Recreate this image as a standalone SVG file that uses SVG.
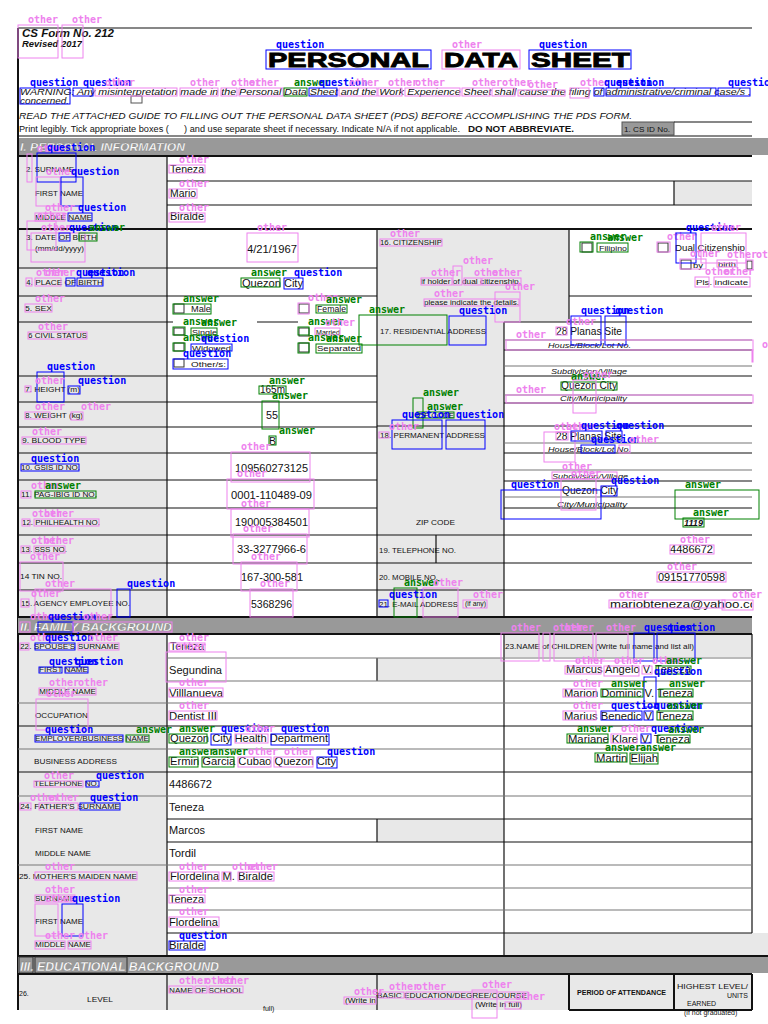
<svg xmlns="http://www.w3.org/2000/svg" width="768" height="1024" viewBox="0 0 768 1024">
<style>
.f{font-family:"Liberation Sans",Arial,sans-serif;fill:#111}
.lb{font-family:"Liberation Sans",Arial,sans-serif;font-size:7px;fill:#111}
.v{font-family:"Liberation Sans",Arial,sans-serif;font-size:10.5px;fill:#111}
.n{font-family:"Liberation Sans",Arial,sans-serif;font-size:11.5px;fill:#111}
.it{font-style:italic}
.bt{font-family:"Liberation Sans",Arial,sans-serif;font-style:italic;font-weight:bold;fill:#fff;stroke:#777;stroke-width:0.3}
.bar{fill:#999}
.cell{fill:#e8e8e8}
.ln{stroke:#111;stroke-width:1.2;fill:none}
.lg{stroke:#777;stroke-width:1.2;fill:none}
.thk{stroke:#111;stroke-width:2;fill:none}
.cb{fill:#fff;stroke:#333;stroke-width:1}
.ann rect{fill:none;stroke-width:1}
.ann text{font-family:"DejaVu Sans Mono",monospace;font-size:10px;font-weight:bold}
.q rect{stroke:#0000ff}.q text{fill:#0000ff}
.a rect{stroke:#008000}.a text{fill:#008000}
.o rect{stroke:#ee82ee}.o text{fill:#ee82ee}
</style>
<defs>
<clipPath id="clipR"><rect x="0" y="0" width="752" height="1024"/></clipPath>
</defs>
<rect width="768" height="1024" fill="#fff"/>

<g id="header">
<line class="ln" x1="18" y1="28" x2="752" y2="28" stroke-width="1.5"/>
<text class="f it" x="22" y="37" font-size="11" font-weight="bold" textLength="92" lengthAdjust="spacingAndGlyphs">CS Form No. 212</text>
<text class="f it" x="22" y="47" font-size="8.5" font-weight="bold" textLength="60" lengthAdjust="spacingAndGlyphs">Revised 2017</text>
<g font-family="'Liberation Sans',Arial,sans-serif" font-weight="bold" font-size="21" fill="#000" stroke="#000" stroke-width="0.9">
<text x="268" y="67" textLength="161" lengthAdjust="spacingAndGlyphs">PERSONAL</text>
<text x="444" y="67" textLength="74" lengthAdjust="spacingAndGlyphs">DATA</text>
<text x="531" y="67" textLength="99" lengthAdjust="spacingAndGlyphs">SHEET</text>
</g>
<text class="f it" x="20" y="95" font-size="8.5" textLength="731" lengthAdjust="spacingAndGlyphs">WARNING: Any misinterpretation made in the Personal Data Sheet and the Work Experience Sheet shall cause the filing of administrative/criminal case/s .</text>
<text class="f it" x="20" y="104" font-size="8.5" textLength="49" lengthAdjust="spacingAndGlyphs">concerned.</text>
<rect x="131" y="96" width="11" height="7" fill="#fff" stroke="#555"/>
<text class="f it" x="19" y="119" font-size="9" textLength="613" lengthAdjust="spacingAndGlyphs">READ THE ATTACHED GUIDE TO FILLING OUT THE PERSONAL DATA SHEET (PDS) BEFORE ACCOMPLISHING THE PDS FORM.</text>
<text class="f" x="19" y="132" font-size="8.5" textLength="441" lengthAdjust="spacingAndGlyphs">Print legibly. Tick appropriate boxes (&#160;&#160;&#160;&#160;&#160;&#160;) and use separate sheet if necessary. Indicate N/A if not applicable.</text>
<text class="f" x="468" y="132" font-size="9.5" font-weight="bold" textLength="106" lengthAdjust="spacingAndGlyphs">DO NOT ABBREVIATE.</text>
<rect x="622" y="122" width="52" height="13" fill="#999" stroke="#555"/>
<text class="f" x="624" y="132" font-size="7" fill="#222" textLength="46" lengthAdjust="spacingAndGlyphs">1. CS ID No.</text>
<line class="ln" x1="674" y1="122" x2="752" y2="122"/>
<line class="ln" x1="18" y1="136" x2="752" y2="136"/>
<rect class="bar" x="18" y="138" width="750" height="17"/>
<text class="bt" x="20" y="151" font-size="11.5" textLength="165" lengthAdjust="spacingAndGlyphs">I. PERSONAL INFORMATION</text>
<line class="thk" x1="18" y1="156" x2="752" y2="156"/>
<line class="thk" x1="18" y1="28" x2="18" y2="1010"/>
</g>

<g id="sec1">
<rect class="cell" x="19" y="157" width="148" height="460"/>
<rect class="cell" x="674" y="181" width="78" height="24"/>
<rect class="cell" x="377" y="229" width="192" height="93"/>
<rect class="cell" x="377" y="322" width="127" height="295"/>
<line class="ln" x1="167" y1="156" x2="167" y2="617"/>
<line class="ln" x1="377" y1="229" x2="377" y2="617"/>
<line class="ln" x1="569" y1="229" x2="569" y2="322"/>
<line class="ln" x1="504" y1="322" x2="504" y2="617"/>
<line class="ln" x1="674" y1="181" x2="674" y2="205"/>
<line class="ln" x1="436" y1="535" x2="436" y2="563"/>
<line class="ln" x1="167" y1="181" x2="752" y2="181"/>
<line class="ln" x1="167" y1="205" x2="752" y2="205"/>
<line class="thk" x1="18" y1="229" x2="752" y2="229"/>
<line class="ln" x1="18" y1="268" x2="377" y2="268"/>
<line class="ln" x1="18" y1="296" x2="377" y2="296"/>
<line class="ln" x1="18" y1="322" x2="173" y2="322"/>
<line class="ln" x1="257" y1="322" x2="298" y2="322"/>
<line class="ln" x1="18" y1="376" x2="377" y2="376"/>
<line class="ln" x1="18" y1="402" x2="377" y2="402"/>
<line class="ln" x1="18" y1="427" x2="377" y2="427"/>
<line class="ln" x1="18" y1="453" x2="377" y2="453"/>
<line class="ln" x1="18" y1="480" x2="377" y2="480"/>
<line class="ln" x1="18" y1="508" x2="377" y2="508"/>
<line class="ln" x1="18" y1="535" x2="377" y2="535"/>
<line class="ln" x1="18" y1="563" x2="377" y2="563"/>
<line class="ln" x1="18" y1="590" x2="377" y2="590"/>
<line class="ln" x1="569" y1="296" x2="752" y2="296"/>
<line class="ln" x1="504" y1="322" x2="752" y2="322"/>
<line class="lg" x1="504" y1="340" x2="752" y2="340"/>
<line class="ln" x1="504" y1="350" x2="752" y2="350"/>
<line class="lg" x1="504" y1="366" x2="752" y2="366"/>
<line class="ln" x1="504" y1="376" x2="752" y2="376"/>
<line class="lg" x1="504" y1="395" x2="752" y2="395"/>
<line class="ln" x1="504" y1="403" x2="752" y2="403"/>
<line class="ln" x1="377" y1="426" x2="752" y2="426"/>
<line class="lg" x1="504" y1="443" x2="752" y2="443"/>
<line class="ln" x1="504" y1="453" x2="752" y2="453"/>
<line class="lg" x1="504" y1="470" x2="752" y2="470"/>
<line class="ln" x1="504" y1="481" x2="752" y2="481"/>
<line class="lg" x1="504" y1="497" x2="752" y2="497"/>
<line class="ln" x1="504" y1="508" x2="752" y2="508"/>
<line class="ln" x1="377" y1="535" x2="752" y2="535"/>
<line class="ln" x1="377" y1="563" x2="752" y2="563"/>
<line class="ln" x1="377" y1="590" x2="752" y2="590"/>
<line class="thk" x1="18" y1="617" x2="752" y2="617" stroke-width="2.5"/>

<text class="lb" x="26" y="172" textLength="48" lengthAdjust="spacingAndGlyphs">2. SURNAME</text>
<text class="lb" x="35" y="196" textLength="48" lengthAdjust="spacingAndGlyphs">FIRST NAME</text>
<text class="lb" x="35" y="220" textLength="57" lengthAdjust="spacingAndGlyphs">MIDDLE NAME</text>
<text class="lb" x="26" y="240" textLength="71" lengthAdjust="spacingAndGlyphs">3. DATE OF BIRTH</text>
<text class="lb" x="35" y="251" font-size="6.5" textLength="49" lengthAdjust="spacingAndGlyphs">(mm/dd/yyyy)</text>
<text class="lb" x="26" y="285" textLength="77" lengthAdjust="spacingAndGlyphs">4. PLACE OF BIRTH</text>
<text class="lb" x="25" y="311" textLength="27" lengthAdjust="spacingAndGlyphs">5. SEX</text>
<text class="lb" x="28" y="338" textLength="59" lengthAdjust="spacingAndGlyphs">6 CIVIL STATUS</text>
<text class="lb" x="25" y="392" textLength="55" lengthAdjust="spacingAndGlyphs">7. HEIGHT (m)</text>
<text class="lb" x="25" y="418" textLength="58" lengthAdjust="spacingAndGlyphs">8. WEIGHT (kg)</text>
<text class="lb" x="22" y="443" textLength="64" lengthAdjust="spacingAndGlyphs">9.  BLOOD TYPE</text>
<text class="lb" x="21" y="470" textLength="59" lengthAdjust="spacingAndGlyphs">10. GSIS ID NO.</text>
<text class="lb" x="21" y="497" textLength="76" lengthAdjust="spacingAndGlyphs">11.  PAG-IBIG ID NO.</text>
<text class="lb" x="22" y="525" textLength="78" lengthAdjust="spacingAndGlyphs">12.  PHILHEALTH NO.</text>
<text class="lb" x="21" y="552" textLength="46" lengthAdjust="spacingAndGlyphs">13.  SSS NO.</text>
<text class="lb" x="20" y="579" textLength="42" lengthAdjust="spacingAndGlyphs">14 TIN NO.</text>
<text class="lb" x="21" y="606" textLength="109" lengthAdjust="spacingAndGlyphs">15. AGENCY EMPLOYEE NO.</text>

<text class="v" x="170" y="173" textLength="34" lengthAdjust="spacingAndGlyphs">Teneza</text>
<text class="v" x="170" y="197" textLength="26" lengthAdjust="spacingAndGlyphs">Mario</text>
<text class="v" x="170" y="220" textLength="34" lengthAdjust="spacingAndGlyphs">Biralde</text>
<text class="n" x="247" y="253" textLength="50" lengthAdjust="spacingAndGlyphs">4/21/1967</text>
<text class="v" x="242" y="287" textLength="61" lengthAdjust="spacingAndGlyphs">Quezon City</text>
<rect class="cb" x="174" y="304" width="10" height="9"/>
<text class="f" x="191" y="312" font-size="8.5" textLength="20" lengthAdjust="spacingAndGlyphs">Male</text>
<rect class="cb" x="299" y="304" width="10" height="9"/>
<text class="f" x="317" y="312" font-size="8.5" textLength="29" lengthAdjust="spacingAndGlyphs">Female</text>
<rect class="cb" x="174" y="328" width="10" height="7"/>
<text class="f" x="192" y="335" font-size="8" textLength="25" lengthAdjust="spacingAndGlyphs">Single</text>
<rect class="cb" x="299" y="328" width="10" height="8"/>
<text class="f" x="316" y="335" font-size="8" textLength="24" lengthAdjust="spacingAndGlyphs">Married</text>
<rect class="cb" x="174" y="343" width="10" height="8"/>
<text class="f" x="192" y="351" font-size="8" textLength="39" lengthAdjust="spacingAndGlyphs">Widowed</text>
<rect class="cb" x="299" y="343" width="10" height="9"/>
<text class="f" x="317" y="351" font-size="8" textLength="44" lengthAdjust="spacingAndGlyphs">Separated</text>
<rect class="cb" x="174" y="359" width="10" height="8"/>
<text class="f" x="191" y="367" font-size="8" textLength="35" lengthAdjust="spacingAndGlyphs">Other/s:</text>
<text class="v" x="260" y="393" textLength="25" lengthAdjust="spacingAndGlyphs">165m</text>
<text class="n" x="266" y="419" textLength="12" lengthAdjust="spacingAndGlyphs">55</text>
<text class="v" x="269" y="445" textLength="7" lengthAdjust="spacingAndGlyphs">B</text>
<text class="n" x="235" y="472" textLength="73" lengthAdjust="spacingAndGlyphs">109560273125</text>
<text class="n" x="231" y="499" textLength="81" lengthAdjust="spacingAndGlyphs">0001-110489-09</text>
<text class="n" x="235" y="526" textLength="73" lengthAdjust="spacingAndGlyphs">190005384501</text>
<text class="n" x="237" y="553" textLength="69" lengthAdjust="spacingAndGlyphs">33-3277966-6</text>
<text class="n" x="241" y="581" textLength="62" lengthAdjust="spacingAndGlyphs">167-300-581</text>
<text class="n" x="251" y="608" textLength="41" lengthAdjust="spacingAndGlyphs">5368296</text>

<text class="lb" x="380" y="245" textLength="62" lengthAdjust="spacingAndGlyphs">16. CITIZENSHIP</text>
<rect class="cb" x="582" y="243" width="10" height="9"/>
<text class="f" x="599" y="251" font-size="8" textLength="28" lengthAdjust="spacingAndGlyphs">Filipino</text>
<rect class="cb" x="658" y="243" width="10" height="9"/>
<text class="f" x="675" y="251" font-size="8.5" textLength="70" lengthAdjust="spacingAndGlyphs">Dual Citizenship</text>
<rect class="cb" x="681" y="260" width="10" height="9"/>
<text class="f" x="693" y="268" font-size="7.5" textLength="10" lengthAdjust="spacingAndGlyphs">by</text>
<text class="f" x="718" y="267" font-size="7" fill="#555" textLength="18" lengthAdjust="spacingAndGlyphs">birth</text>
<rect class="cb" x="747" y="261" width="5" height="8"/>
<text class="f" x="696" y="285" font-size="8" fill="#444" textLength="52" lengthAdjust="spacingAndGlyphs">Pls. indicate</text>
<text class="f" x="421" y="284" font-size="7" fill="#222" textLength="100" lengthAdjust="spacingAndGlyphs">if holder of  dual citizenship,</text>
<text class="f" x="424" y="305" font-size="7" fill="#222" textLength="95" lengthAdjust="spacingAndGlyphs">please indicate the details.</text>
<text class="lb" x="380" y="334" textLength="106" lengthAdjust="spacingAndGlyphs">17. RESIDENTIAL ADDRESS</text>
<text class="v" x="556" y="335" textLength="66" lengthAdjust="spacingAndGlyphs">28 Planas Site</text>
<text class="f it" x="548" y="348" font-size="8" fill="#333" textLength="83" lengthAdjust="spacingAndGlyphs">House/Block/Lot No.</text>
<text class="f it" x="551" y="374" font-size="8" fill="#333" textLength="76" lengthAdjust="spacingAndGlyphs">Subdivision/Village</text>
<text class="v" x="561" y="389" textLength="56" lengthAdjust="spacingAndGlyphs">Quezon City</text>
<text class="f it" x="560" y="401" font-size="7.5" fill="#333" textLength="67" lengthAdjust="spacingAndGlyphs">City/Municipality</text>
<text class="lb" x="417" y="418" font-size="6.5" fill="#555" textLength="37" lengthAdjust="spacingAndGlyphs">ZIP CODE</text>
<text class="lb" x="380" y="438" textLength="105" lengthAdjust="spacingAndGlyphs">18. PERMANENT ADDRESS</text>
<text class="v" x="556" y="440" textLength="66" lengthAdjust="spacingAndGlyphs">28 Planas Site</text>
<text class="f it" x="548" y="452" font-size="8" fill="#333" textLength="83" lengthAdjust="spacingAndGlyphs">House/Block/Lot No.</text>
<text class="f it" x="552" y="479" font-size="8" fill="#333" textLength="76" lengthAdjust="spacingAndGlyphs">Subdivision/Village</text>
<text class="v" x="562" y="494" textLength="56" lengthAdjust="spacingAndGlyphs">Quezon City</text>
<text class="f it" x="557" y="507" font-size="8" fill="#333" textLength="70" lengthAdjust="spacingAndGlyphs">City/Municipality</text>
<text class="lb" x="416" y="525" font-size="7.5" textLength="39" lengthAdjust="spacingAndGlyphs">ZIP CODE</text>
<text class="f it" x="684" y="526" font-size="9" font-weight="bold" textLength="19" lengthAdjust="spacingAndGlyphs">1119</text>
<text class="lb" x="379" y="553" font-size="7.5" textLength="77" lengthAdjust="spacingAndGlyphs">19. TELEPHONE NO.</text>
<text class="v" x="670" y="553" textLength="43" lengthAdjust="spacingAndGlyphs">4486672</text>
<text class="lb" x="379" y="580" font-size="7.5" textLength="59" lengthAdjust="spacingAndGlyphs">20. MOBILE NO.</text>
<text class="v" x="658" y="581" textLength="67" lengthAdjust="spacingAndGlyphs">09151770598</text>
<text class="lb" x="379" y="607" font-size="7.5" textLength="79" lengthAdjust="spacingAndGlyphs">21. E-MAIL ADDRESS</text>
<text class="lb" x="465" y="606" font-size="6.5" textLength="21" lengthAdjust="spacingAndGlyphs">(if any)</text>
<text class="f" x="610" y="608" font-size="11.5" fill="#334" clip-path="url(#clipR)" textLength="158" lengthAdjust="spacingAndGlyphs">mariobteneza@yahoo.com</text>
</g>

<g id="sec2">
<rect class="bar" x="18" y="618" width="734" height="15"/>
<text class="bt" x="20" y="631" font-size="11.5" textLength="152" lengthAdjust="spacingAndGlyphs">II.  FAMILY BACKGROUND</text>
<line class="thk" x1="18" y1="634" x2="752" y2="634"/>
<rect class="cell" x="19" y="635" width="148" height="321"/>
<rect class="cell" x="504" y="635" width="248" height="22"/>
<rect class="cell" x="377" y="658" width="127" height="23"/>
<rect class="cell" x="377" y="819" width="127" height="23"/>
<rect class="cell" x="504" y="933" width="264" height="23"/>
<line class="ln" x1="167" y1="634" x2="167" y2="956"/>
<line class="ln" x1="504" y1="634" x2="504" y2="956"/>
<line class="ln" x1="752" y1="634" x2="752" y2="933"/>
<line class="ln" x1="377" y1="658" x2="377" y2="681"/>
<line class="ln" x1="377" y1="819" x2="377" y2="842"/>
<line class="lg" x1="167" y1="658" x2="752" y2="658"/>
<line class="lg" x1="167" y1="681" x2="752" y2="681"/>
<line class="lg" x1="18" y1="703" x2="752" y2="703"/>
<line class="ln" x1="18" y1="726" x2="752" y2="726"/>
<line class="lg" x1="18" y1="749" x2="752" y2="749"/>
<line class="ln" x1="18" y1="772" x2="752" y2="772"/>
<line class="lg" x1="18" y1="796" x2="752" y2="796"/>
<line class="ln" x1="167" y1="819" x2="752" y2="819"/>
<line class="ln" x1="167" y1="842" x2="752" y2="842"/>
<line class="lg" x1="18" y1="865" x2="752" y2="865"/>
<line class="lg" x1="167" y1="888" x2="752" y2="888"/>
<line class="lg" x1="167" y1="910" x2="752" y2="910"/>
<line class="ln" x1="167" y1="933" x2="752" y2="933"/>
<line class="thk" x1="18" y1="956" x2="768" y2="956" stroke-width="2.5"/>

<text class="lb" x="20" y="649" textLength="99" lengthAdjust="spacingAndGlyphs">22.  SPOUSE'S SURNAME</text>
<text class="lb" x="39" y="672" textLength="49" lengthAdjust="spacingAndGlyphs">FIRST NAME</text>
<text class="lb" x="39" y="694" textLength="57" lengthAdjust="spacingAndGlyphs">MIDDLE NAME</text>
<text class="lb" x="35" y="718" textLength="53" lengthAdjust="spacingAndGlyphs">OCCUPATION</text>
<text class="lb" x="35" y="741" textLength="114" lengthAdjust="spacingAndGlyphs">EMPLOYER/BUSINESS NAME</text>
<text class="lb" x="34" y="764" textLength="83" lengthAdjust="spacingAndGlyphs">BUSINESS ADDRESS</text>
<text class="lb" x="34" y="786" textLength="65" lengthAdjust="spacingAndGlyphs">TELEPHONE NO.</text>
<text class="lb" x="20" y="809" textLength="100" lengthAdjust="spacingAndGlyphs">24.  FATHER'S SURNAME</text>
<text class="lb" x="35" y="833" textLength="48" lengthAdjust="spacingAndGlyphs">FIRST NAME</text>
<text class="lb" x="35" y="856" textLength="56" lengthAdjust="spacingAndGlyphs">MIDDLE NAME</text>
<text class="lb" x="19" y="879" textLength="118" lengthAdjust="spacingAndGlyphs">25.  MOTHER'S MAIDEN NAME</text>
<text class="lb" x="35" y="901" textLength="40" lengthAdjust="spacingAndGlyphs">SURNAME</text>
<text class="lb" x="35" y="924" textLength="48" lengthAdjust="spacingAndGlyphs">FIRST NAME</text>
<text class="lb" x="35" y="947" textLength="56" lengthAdjust="spacingAndGlyphs">MIDDLE NAME</text>

<text class="v" x="170" y="650" textLength="34" lengthAdjust="spacingAndGlyphs">Teneza</text>
<text class="v" x="169" y="674" textLength="53" lengthAdjust="spacingAndGlyphs">Segundina</text>
<text class="v" x="169" y="697" textLength="54" lengthAdjust="spacingAndGlyphs">Villlanueva</text>
<text class="v" x="169" y="720" textLength="48" lengthAdjust="spacingAndGlyphs">Dentist III</text>
<text class="v" x="170" y="742" textLength="158" lengthAdjust="spacingAndGlyphs">Quezon City Health Department</text>
<text class="v" x="170" y="765" textLength="166" lengthAdjust="spacingAndGlyphs">Ermin Garcia Cubao Quezon City</text>
<text class="v" x="169" y="788" textLength="43" lengthAdjust="spacingAndGlyphs">4486672</text>
<text class="v" x="169" y="811" textLength="35" lengthAdjust="spacingAndGlyphs">Teneza</text>
<text class="v" x="169" y="834" textLength="36" lengthAdjust="spacingAndGlyphs">Marcos</text>
<text class="v" x="169" y="857" textLength="27" lengthAdjust="spacingAndGlyphs">Tordil</text>
<text class="v" x="170" y="880" textLength="103" lengthAdjust="spacingAndGlyphs">Flordelina M. Biralde</text>
<text class="v" x="169" y="903" textLength="35" lengthAdjust="spacingAndGlyphs">Teneza</text>
<text class="v" x="169" y="926" textLength="49" lengthAdjust="spacingAndGlyphs">Flordelina</text>
<text class="v" x="169" y="949" textLength="35" lengthAdjust="spacingAndGlyphs">Biralde</text>

<text class="lb" x="505" y="649" font-size="7.5" textLength="189" lengthAdjust="spacingAndGlyphs">23.NAME of CHILDREN (Write full name and list all)</text>
<text class="v" x="566" y="673" textLength="125" lengthAdjust="spacingAndGlyphs">Marcus Angelo V. Teneza</text>
<text class="v" x="564" y="697" textLength="129" lengthAdjust="spacingAndGlyphs">Marion Dominic V. Teneza</text>
<text class="v" x="564" y="720" textLength="129" lengthAdjust="spacingAndGlyphs">Marius Benedic V. Teneza</text>
<text class="v" x="568" y="743" textLength="122" lengthAdjust="spacingAndGlyphs">Mariane Klare V. Teneza</text>
<text class="v" x="596" y="762" textLength="62" lengthAdjust="spacingAndGlyphs">Martin Elijah</text>
</g>

<g id="sec3">
<rect class="bar" x="18" y="957" width="750" height="16"/>
<rect x="19" y="957" width="14" height="16" fill="none" stroke="#333"/>
<rect x="35" y="957" width="92" height="16" fill="none" stroke="#333"/>
<text class="bt" x="20" y="971" font-size="12" textLength="199" lengthAdjust="spacingAndGlyphs">III.  EDUCATIONAL BACKGROUND</text>
<line class="thk" x1="18" y1="974" x2="752" y2="974"/>
<rect class="cell" x="19" y="975" width="733" height="35"/>
<line class="ln" x1="167" y1="974" x2="167" y2="1010"/>
<line class="ln" x1="377" y1="974" x2="377" y2="1010"/>
<line class="thk" x1="569" y1="974" x2="569" y2="1010"/>
<line class="thk" x1="674" y1="974" x2="674" y2="1010"/>
<line class="thk" x1="752" y1="974" x2="752" y2="1010"/>
<line class="thk" x1="569" y1="1010" x2="752" y2="1010"/>
<text class="lb" x="19" y="996">26.</text>
<text class="lb" x="87" y="1002" font-size="7.5" textLength="26" lengthAdjust="spacingAndGlyphs">LEVEL</text>
<text class="lb" x="169" y="993" textLength="74" lengthAdjust="spacingAndGlyphs">NAME OF SCHOOL</text>
<text class="lb" x="345" y="1003" font-size="6.5" textLength="31" lengthAdjust="spacingAndGlyphs">(Write in</text>
<text class="lb" x="263" y="1011" font-size="6.5">full)</text>
<text class="lb" x="377" y="998" textLength="150" lengthAdjust="spacingAndGlyphs">BASIC EDUCATION/DEGREE/COURSE</text>
<text class="lb" x="475" y="1007" textLength="47" lengthAdjust="spacingAndGlyphs">(Write in full)</text>
<text class="lb" x="577" y="995" font-size="6.5" font-weight="bold" textLength="89" lengthAdjust="spacingAndGlyphs">PERIOD OF ATTENDANCE</text>
<text class="lb" x="677" y="989" font-size="7.5" textLength="71" lengthAdjust="spacingAndGlyphs">HIGHEST LEVEL/</text>
<text class="lb" x="748" y="998" font-size="7.5" text-anchor="end">UNITS</text>
<text class="lb" x="687" y="1006" font-size="7.5">EARNED</text>
<text class="lb" x="684" y="1015" font-size="6.5">(if not graduated)</text>
</g>

<g id="annotations">
<g id="n1" class="ann o" transform="translate(18,25)"><rect width="40" height="33"/><text x="10" y="-2">other</text></g>
<g id="n2" class="ann o" transform="translate(62,25)"><rect width="21" height="33"/><text x="10" y="-2">other</text></g>
<g id="n3" class="ann q" transform="translate(266,50)"><rect width="165" height="19"/><text x="10" y="-2">question</text></g>
<g id="n4" class="ann o" transform="translate(442,50)"><rect width="78" height="19"/><text x="10" y="-2">other</text></g>
<g id="n5" class="ann q" transform="translate(529,50)"><rect width="102" height="19"/><text x="10" y="-2">question</text></g>
<g id="n6" class="ann q" transform="translate(20,88)"><rect width="50" height="16"/><text x="10" y="-2">question</text></g>
<g id="n7" class="ann q" transform="translate(73,88)"><rect width="20" height="8"/><text x="10" y="-2">question</text></g>
<g id="n8" class="ann o" transform="translate(95,88)"><rect width="82" height="8"/><text x="10" y="-2">other</text></g>
<g id="n9" class="ann o" transform="translate(180,88)"><rect width="38" height="8"/><text x="10" y="-2">other</text></g>
<g id="n10" class="ann o" transform="translate(221,88)"><rect width="16" height="8"/><text x="10" y="-2">other</text></g>
<g id="n11" class="ann o" transform="translate(239,88)"><rect width="44" height="8"/><text x="10" y="-2">other</text></g>
<g id="n12" class="ann a" transform="translate(284,88)"><rect width="23" height="8"/><text x="10" y="-2">answer</text></g>
<g id="n13" class="ann q" transform="translate(309,88)"><rect width="28" height="8"/><text x="10" y="-2">question</text></g>
<g id="n14" class="ann o" transform="translate(339,88)"><rect width="38" height="8"/><text x="10" y="-2">other</text></g>
<g id="n15" class="ann o" transform="translate(378,88)"><rect width="24" height="8"/><text x="10" y="-2">other</text></g>
<g id="n16" class="ann o" transform="translate(405,88)"><rect width="55" height="8"/><text x="10" y="-2">other</text></g>
<g id="n17" class="ann o" transform="translate(462,88)"><rect width="28" height="8"/><text x="10" y="-2">other</text></g>
<g id="n18" class="ann o" transform="translate(492,88)"><rect width="23" height="8"/><text x="10" y="-2">other</text></g>
<g id="n19" class="ann o" transform="translate(518,90)"><rect width="47" height="6"/><text x="10" y="-2">other</text></g>
<g id="n20" class="ann o" transform="translate(570,88)"><rect width="19" height="10"/><text x="10" y="-2">other</text></g>
<g id="n21" class="ann q" transform="translate(594,88)"><rect width="10" height="8"/><text x="10" y="-2">question</text></g>
<g id="n22" class="ann q" transform="translate(606,88)"><rect width="110" height="8"/><text x="10" y="-2">question</text></g>
<g id="n23" class="ann q" transform="translate(718,88)"><rect width="32" height="8"/><text x="10" y="-2">question</text></g>

<g id="n24" class="ann o" transform="translate(27,154)"><rect width="5" height="28"/><text x="10" y="-2">other</text></g>
<g id="n25" class="ann q" transform="translate(37,153)"><rect width="39" height="29"/><text x="10" y="-2">question</text></g>
<g id="n26" class="ann o" transform="translate(169,165)"><rect width="36" height="8"/><text x="10" y="-2">other</text></g>
<g id="n27" class="ann o" transform="translate(36,177)"><rect width="24" height="29"/><text x="10" y="-2">other</text></g>
<g id="n28" class="ann q" transform="translate(61,177)"><rect width="22" height="29"/><text x="10" y="-2">question</text></g>
<g id="n29" class="ann o" transform="translate(169,189)"><rect width="28" height="9"/><text x="10" y="-2">other</text></g>
<g id="n30" class="ann o" transform="translate(35,213)"><rect width="30" height="8"/><text x="10" y="-2">other</text></g>
<g id="n31" class="ann q" transform="translate(68,213)"><rect width="24" height="8"/><text x="10" y="-2">question</text></g>
<g id="n32" class="ann o" transform="translate(169,213)"><rect width="36" height="9"/><text x="10" y="-2">other</text></g>
<g id="n33" class="ann o" transform="translate(27,221)"><rect width="29" height="29"/><text x="10" y="-2">other</text></g>
<g id="n34" class="ann o" transform="translate(31,233)"><rect width="54" height="29"/><text x="10" y="-2">other</text></g>
<g id="n35" class="ann q" transform="translate(59,233)"><rect width="11" height="8"/><text x="10" y="-2">question</text></g>
<g id="n36" class="ann a" transform="translate(79,233)"><rect width="18" height="8"/><text x="10" y="-2">answer</text></g>
<g id="n37" class="ann o" transform="translate(247,233)"><rect width="51" height="29"/><text x="10" y="-2">other</text></g>
<g id="n38" class="ann o" transform="translate(26,278)"><rect width="6" height="8"/><text x="10" y="-2">other</text></g>
<g id="n39" class="ann o" transform="translate(35,278)"><rect width="26" height="8"/><text x="10" y="-2">other</text></g>
<g id="n40" class="ann q" transform="translate(66,278)"><rect width="9" height="8"/><text x="10" y="-2">question</text></g>
<g id="n41" class="ann q" transform="translate(77,278)"><rect width="26" height="8"/><text x="10" y="-2">question</text></g>
<g id="n42" class="ann a" transform="translate(241,278)"><rect width="39" height="9"/><text x="10" y="-2">answer</text></g>
<g id="n43" class="ann q" transform="translate(284,278)"><rect width="19" height="11"/><text x="10" y="-2">question</text></g>
<g id="n44" class="ann o" transform="translate(25,304)"><rect width="27" height="8"/><text x="10" y="-2">other</text></g>
<g id="n45" class="ann a" transform="translate(173,304)"><rect width="38" height="10"/><text x="10" y="-2">answer</text></g>
<g id="n46" class="ann o" transform="translate(298,303)"><rect width="11" height="11"/><text x="10" y="-2">other</text></g>
<g id="n47" class="ann a" transform="translate(316,305)"><rect width="31" height="8"/><text x="10" y="-2">answer</text></g>
<g id="n48" class="ann a" transform="translate(359,315)"><rect width="88" height="30"/><text x="10" y="-2">answer</text></g>
<g id="n49" class="ann o" transform="translate(28,332)"><rect width="59" height="7"/><text x="10" y="-2">other</text></g>
<g id="n50" class="ann a" transform="translate(173,327)"><rect width="12" height="8"/><text x="10" y="-2">answer</text></g>
<g id="n51" class="ann a" transform="translate(191,328)"><rect width="26" height="7"/><text x="10" y="-2">answer</text></g>
<g id="n52" class="ann a" transform="translate(298,327)"><rect width="11" height="8"/><text x="10" y="-2">answer</text></g>
<g id="n53" class="ann o" transform="translate(315,328)"><rect width="25" height="7"/><text x="10" y="-2">other</text></g>
<g id="n54" class="ann a" transform="translate(173,343)"><rect width="12" height="8"/><text x="10" y="-2">answer</text></g>
<g id="n55" class="ann q" transform="translate(191,344)"><rect width="41" height="7"/><text x="10" y="-2">question</text></g>
<g id="n56" class="ann a" transform="translate(298,343)"><rect width="11" height="10"/><text x="10" y="-2">answer</text></g>
<g id="n57" class="ann a" transform="translate(316,344)"><rect width="46" height="9"/><text x="10" y="-2">answer</text></g>
<g id="n58" class="ann q" transform="translate(173,359)"><rect width="55" height="10"/><text x="10" y="-2">question</text></g>
<g id="n59" class="ann q" transform="translate(37,372)"><rect width="27" height="30"/><text x="10" y="-2">question</text></g>
<g id="n60" class="ann o" transform="translate(25,386)"><rect width="6" height="6"/><text x="10" y="-2">other</text></g>
<g id="n61" class="ann q" transform="translate(68,386)"><rect width="12" height="8"/><text x="10" y="-2">question</text></g>
<g id="n62" class="ann a" transform="translate(259,386)"><rect width="27" height="8"/><text x="10" y="-2">answer</text></g>
<g id="n63" class="ann a" transform="translate(262,401)"><rect width="17" height="28"/><text x="10" y="-2">answer</text></g>
<g id="n64" class="ann o" transform="translate(25,412)"><rect width="25" height="7"/><text x="10" y="-2">other</text></g>
<g id="n65" class="ann o" transform="translate(71,412)"><rect width="12" height="8"/><text x="10" y="-2">other</text></g>
<g id="n66" class="ann o" transform="translate(22,437)"><rect width="64" height="7"/><text x="10" y="-2">other</text></g>
<g id="n67" class="ann a" transform="translate(269,436)"><rect width="7" height="9"/><text x="10" y="-2">answer</text></g>
<g id="n68" class="ann o" transform="translate(231,452)"><rect width="79" height="30"/><text x="10" y="-2">other</text></g>
<g id="n69" class="ann q" transform="translate(21,464)"><rect width="58" height="7"/><text x="10" y="-2">question</text></g>
<g id="n70" class="ann o" transform="translate(227,479)"><rect width="87" height="30"/><text x="10" y="-2">other</text></g>
<g id="n71" class="ann o" transform="translate(21,491)"><rect width="10" height="7"/><text x="10" y="-2">other</text></g>
<g id="n72" class="ann a" transform="translate(35,491)"><rect width="61" height="7"/><text x="10" y="-2">answer</text></g>
<g id="n73" class="ann o" transform="translate(231,509)"><rect width="78" height="28"/><text x="10" y="-2">other</text></g>
<g id="n74" class="ann o" transform="translate(22,519)"><rect width="8" height="7"/><text x="10" y="-2">other</text></g>
<g id="n75" class="ann o" transform="translate(34,519)"><rect width="65" height="7"/><text x="10" y="-2">other</text></g>
<g id="n76" class="ann o" transform="translate(233,534)"><rect width="74" height="30"/><text x="10" y="-2">other</text></g>
<g id="n77" class="ann o" transform="translate(21,546)"><rect width="9" height="7"/><text x="10" y="-2">other</text></g>
<g id="n78" class="ann o" transform="translate(34,546)"><rect width="31" height="7"/><text x="10" y="-2">other</text></g>
<g id="n79" class="ann o" transform="translate(20,562)"><rect width="43" height="29"/><text x="10" y="-2">other</text></g>
<g id="n80" class="ann o" transform="translate(241,562)"><rect width="56" height="29"/><text x="10" y="-2">other</text></g>
<g id="n81" class="ann o" transform="translate(35,589)"><rect width="76" height="28"/><text x="10" y="-2">other</text></g>
<g id="n82" class="ann q" transform="translate(117,589)"><rect width="13" height="28"/><text x="10" y="-2">question</text></g>
<g id="n83" class="ann o" transform="translate(21,599)"><rect width="8" height="8"/><text x="10" y="-2">other</text></g>
<g id="n84" class="ann o" transform="translate(250,589)"><rect width="43" height="28"/><text x="10" y="-2">other</text></g>

<g id="n85" class="ann o" transform="translate(380,239)"><rect width="62" height="7"/><text x="10" y="-2">other</text></g>
<g id="n86" class="ann a" transform="translate(580,242)"><rect width="13" height="10"/><text x="10" y="-2">answer</text></g>
<g id="n87" class="ann a" transform="translate(597,243)"><rect width="31" height="9"/><text x="10" y="-2">answer</text></g>
<g id="n88" class="ann o" transform="translate(657,242)"><rect width="13" height="10"/><text x="10" y="-2">other</text></g>
<g id="n89" class="ann q" transform="translate(676,233)"><rect width="20" height="30"/><text x="10" y="-2">question</text></g>
<g id="n90" class="ann o" transform="translate(701,233)"><rect width="45" height="30"/><text x="10" y="-2">other</text></g>
<g id="n91" class="ann o" transform="translate(680,259)"><rect width="26" height="10"/><text x="10" y="-2">other</text></g>
<g id="n92" class="ann o" transform="translate(717,260)"><rect width="20" height="7"/><text x="10" y="-2">other</text></g>
<g id="n93" class="ann o" transform="translate(746,260)"><rect width="7" height="10"/><text x="10" y="-2">other</text></g>
<g id="n94" class="ann o" transform="translate(695,277)"><rect width="14" height="10"/><text x="10" y="-2">other</text></g>
<g id="n95" class="ann o" transform="translate(714,277)"><rect width="36" height="10"/><text x="10" y="-2">other</text></g>
<g id="n96" class="ann o" transform="translate(421,278)"><rect width="31" height="7"/><text x="10" y="-2">other</text></g>
<g id="n97" class="ann o" transform="translate(453,266)"><rect width="9" height="19"/><text x="10" y="-2">other</text></g>
<g id="n98" class="ann o" transform="translate(464,278)"><rect width="17" height="7"/><text x="10" y="-2">other</text></g>
<g id="n99" class="ann o" transform="translate(482,278)"><rect width="39" height="7"/><text x="10" y="-2">other</text></g>
<g id="n100" class="ann o" transform="translate(424,299)"><rect width="95" height="7"/><text x="10" y="-2">other</text></g>
<g id="n101" class="ann o" transform="translate(495,292)"><rect width="25" height="30"/><text x="10" y="-2">other</text></g>
<g id="n102" class="ann q" transform="translate(449,316)"><rect width="37" height="29"/><text x="10" y="-2">question</text></g>
<g id="n103" class="ann o" transform="translate(556,327)"><rect width="11" height="8"/><text x="10" y="-2">other</text></g>
<g id="n104" class="ann q" transform="translate(571,316)"><rect width="30" height="29"/><text x="10" y="-2">question</text></g>
<g id="n105" class="ann q" transform="translate(605,316)"><rect width="21" height="29"/><text x="10" y="-2">question</text></g>
<g id="n106" class="ann o" transform="translate(506,340)"><rect width="247" height="10"/><text x="10" y="-2">other</text></g>
<g id="n107" class="ann o" transform="translate(752,350)"><rect width="1" height="12"/><text x="10" y="-2">other</text></g>
<g id="n108" class="ann a" transform="translate(561,382)"><rect width="56" height="8"/><text x="10" y="-2">answer</text></g>
<g id="n109" class="ann o" transform="translate(573,380)"><rect width="23" height="33"/><text x="10" y="-2">other</text></g>
<g id="n110" class="ann o" transform="translate(506,395)"><rect width="247" height="8"/><text x="10" y="-2">other</text></g>
<g id="n111" class="ann a" transform="translate(413,398)"><rect width="10" height="30"/><text x="10" y="-2">answer</text></g>
<g id="n112" class="ann a" transform="translate(417,412)"><rect width="37" height="6"/><text x="10" y="-2">answer</text></g>
<g id="n113" class="ann q" transform="translate(392,420)"><rect width="50" height="29"/><text x="10" y="-2">question</text></g>
<g id="n114" class="ann q" transform="translate(446,420)"><rect width="39" height="29"/><text x="10" y="-2">question</text></g>
<g id="n115" class="ann o" transform="translate(379,432)"><rect width="10" height="6"/><text x="10" y="-2">other</text></g>
<g id="n116" class="ann o" transform="translate(544,432)"><rect width="31" height="30"/><text x="10" y="-2">other</text></g>
<g id="n117" class="ann o" transform="translate(556,432)"><rect width="12" height="8"/><text x="10" y="-2">other</text></g>
<g id="n118" class="ann q" transform="translate(571,431)"><rect width="31" height="10"/><text x="10" y="-2">question</text></g>
<g id="n119" class="ann q" transform="translate(606,431)"><rect width="16" height="10"/><text x="10" y="-2">question</text></g>
<g id="n120" class="ann q" transform="translate(581,445)"><rect width="34" height="8"/><text x="10" y="-2">question</text></g>
<g id="n121" class="ann o" transform="translate(619,445)"><rect width="11" height="8"/><text x="10" y="-2">other</text></g>
<g id="n122" class="ann o" transform="translate(552,472)"><rect width="65" height="7"/><text x="10" y="-2">other</text></g>
<g id="n123" class="ann o" transform="translate(561,479)"><rect width="35" height="31"/><text x="10" y="-2">other</text></g>
<g id="n124" class="ann q" transform="translate(501,490)"><rect width="100" height="29"/><text x="10" y="-2">question</text></g>
<g id="n125" class="ann q" transform="translate(601,486)"><rect width="16" height="10"/><text x="10" y="-2">question</text></g>
<g id="n126" class="ann a" transform="translate(675,490)"><rect width="84" height="29"/><text x="10" y="-2">answer</text></g>
<g id="n127" class="ann a" transform="translate(683,518)"><rect width="21" height="9"/><text x="10" y="-2">answer</text></g>
<g id="n128" class="ann o" transform="translate(670,545)"><rect width="44" height="9"/><text x="10" y="-2">other</text></g>
<g id="n129" class="ann o" transform="translate(657,572)"><rect width="69" height="10"/><text x="10" y="-2">other</text></g>
<g id="n130" class="ann a" transform="translate(394,588)"><rect width="23" height="29"/><text x="10" y="-2">answer</text></g>
<g id="n131" class="ann q" transform="translate(379,600)"><rect width="9" height="7"/><text x="10" y="-2">question</text></g>
<g id="n132" class="ann o" transform="translate(423,588)"><rect width="35" height="29"/><text x="10" y="-2">other</text></g>
<g id="n133" class="ann o" transform="translate(463,600)"><rect width="24" height="8"/><text x="10" y="-2">other</text></g>
<g id="n134" class="ann o" transform="translate(609,600)"><rect width="116" height="8"/><text x="10" y="-2">other</text></g>
<g id="n135" class="ann o" transform="translate(722,600)"><rect width="31" height="10"/><text x="10" y="-2">other</text></g>

<g id="n136" class="ann o" transform="translate(20,622)"><rect width="10" height="10"/><text x="10" y="-2">other</text></g>
<g id="n137" class="ann q" transform="translate(38,622)"><rect width="35" height="10"/><text x="10" y="-2">question</text></g>
<g id="n138" class="ann o" transform="translate(73,622)"><rect width="99" height="10"/><text x="10" y="-2">other</text></g>
<g id="n139" class="ann o" transform="translate(20,643)"><rect width="9" height="7"/><text x="10" y="-2">other</text></g>
<g id="n140" class="ann q" transform="translate(35,643)"><rect width="40" height="7"/><text x="10" y="-2">question</text></g>
<g id="n141" class="ann o" transform="translate(78,643)"><rect width="41" height="7"/><text x="10" y="-2">other</text></g>
<g id="n142" class="ann o" transform="translate(169,643)"><rect width="36" height="8"/><text x="10" y="-2">other</text></g>
<g id="n143" class="ann o" transform="translate(166,652)"><rect width="60" height="30"/><text x="10" y="-2">other</text></g>
<g id="n144" class="ann q" transform="translate(39,667)"><rect width="23" height="6"/><text x="10" y="-2">question</text></g>
<g id="n145" class="ann q" transform="translate(65,667)"><rect width="23" height="6"/><text x="10" y="-2">question</text></g>
<g id="n146" class="ann o" transform="translate(39,688)"><rect width="26" height="7"/><text x="10" y="-2">other</text></g>
<g id="n147" class="ann o" transform="translate(68,688)"><rect width="28" height="7"/><text x="10" y="-2">other</text></g>
<g id="n148" class="ann o" transform="translate(36,699)"><rect width="52" height="31"/><text x="10" y="-2">other</text></g>
<g id="n149" class="ann o" transform="translate(169,688)"><rect width="54" height="9"/><text x="10" y="-2">other</text></g>
<g id="n150" class="ann o" transform="translate(169,711)"><rect width="48" height="9"/><text x="10" y="-2">other</text></g>
<g id="n151" class="ann q" transform="translate(35,735)"><rect width="88" height="7"/><text x="10" y="-2">question</text></g>
<g id="n152" class="ann a" transform="translate(126,735)"><rect width="23" height="7"/><text x="10" y="-2">answer</text></g>
<g id="n153" class="ann a" transform="translate(169,734)"><rect width="38" height="9"/><text x="10" y="-2">answer</text></g>
<g id="n154" class="ann q" transform="translate(211,734)"><rect width="20" height="11"/><text x="10" y="-2">question</text></g>
<g id="n155" class="ann o" transform="translate(235,734)"><rect width="33" height="9"/><text x="10" y="-2">other</text></g>
<g id="n156" class="ann q" transform="translate(271,734)"><rect width="58" height="11"/><text x="10" y="-2">question</text></g>
<g id="n157" class="ann a" transform="translate(169,757)"><rect width="29" height="10"/><text x="10" y="-2">answer</text></g>
<g id="n158" class="ann a" transform="translate(202,757)"><rect width="32" height="10"/><text x="10" y="-2">answer</text></g>
<g id="n159" class="ann o" transform="translate(238,757)"><rect width="33" height="10"/><text x="10" y="-2">other</text></g>
<g id="n160" class="ann o" transform="translate(274,757)"><rect width="39" height="10"/><text x="10" y="-2">other</text></g>
<g id="n161" class="ann q" transform="translate(317,757)"><rect width="20" height="11"/><text x="10" y="-2">question</text></g>
<g id="n162" class="ann o" transform="translate(34,781)"><rect width="49" height="6"/><text x="10" y="-2">other</text></g>
<g id="n163" class="ann q" transform="translate(86,781)"><rect width="13" height="6"/><text x="10" y="-2">question</text></g>
<g id="n164" class="ann o" transform="translate(20,803)"><rect width="11" height="7"/><text x="10" y="-2">other</text></g>
<g id="n165" class="ann o" transform="translate(39,803)"><rect width="39" height="7"/><text x="10" y="-2">other</text></g>
<g id="n166" class="ann q" transform="translate(80,803)"><rect width="40" height="7"/><text x="10" y="-2">question</text></g>
<g id="n167" class="ann o" transform="translate(35,872)"><rect width="102" height="8"/><text x="10" y="-2">other</text></g>
<g id="n168" class="ann o" transform="translate(169,872)"><rect width="50" height="9"/><text x="10" y="-2">other</text></g>
<g id="n169" class="ann o" transform="translate(222,872)"><rect width="9" height="9"/><text x="10" y="-2">other</text></g>
<g id="n170" class="ann o" transform="translate(238,872)"><rect width="36" height="9"/><text x="10" y="-2">other</text></g>
<g id="n171" class="ann o" transform="translate(169,895)"><rect width="36" height="8"/><text x="10" y="-2">other</text></g>
<g id="n172" class="ann o" transform="translate(35,895)"><rect width="40" height="7"/><text x="10" y="-2">other</text></g>
<g id="n173" class="ann o" transform="translate(35,904)"><rect width="23" height="32"/><text x="10" y="-2">other</text></g>
<g id="n174" class="ann q" transform="translate(62,904)"><rect width="21" height="32"/><text x="10" y="-2">question</text></g>
<g id="n175" class="ann o" transform="translate(169,917)"><rect width="50" height="10"/><text x="10" y="-2">other</text></g>
<g id="n176" class="ann o" transform="translate(35,941)"><rect width="30" height="8"/><text x="10" y="-2">other</text></g>
<g id="n177" class="ann o" transform="translate(68,941)"><rect width="23" height="8"/><text x="10" y="-2">other</text></g>
<g id="n178" class="ann q" transform="translate(169,941)"><rect width="36" height="9"/><text x="10" y="-2">question</text></g>

<g id="n179" class="ann o" transform="translate(501,633)"><rect width="38" height="28"/><text x="10" y="-2">other</text></g>
<g id="n180" class="ann o" transform="translate(543,633)"><rect width="7" height="28"/><text x="10" y="-2">other</text></g>
<g id="n181" class="ann o" transform="translate(554,633)"><rect width="39" height="28"/><text x="10" y="-2">other</text></g>
<g id="n182" class="ann o" transform="translate(596,633)"><rect width="32" height="28"/><text x="10" y="-2">other</text></g>
<g id="n183" class="ann q" transform="translate(634,633)"><rect width="20" height="28"/><text x="10" y="-2">question</text></g>
<g id="n184" class="ann q" transform="translate(657,633)"><rect width="38" height="28"/><text x="10" y="-2">question</text></g>
<g id="n185" class="ann o" transform="translate(565,666)"><rect width="36" height="8"/><text x="10" y="-2">other</text></g>
<g id="n186" class="ann o" transform="translate(604,666)"><rect width="35" height="10"/><text x="10" y="-2">other</text></g>
<g id="n187" class="ann o" transform="translate(642,666)"><rect width="10" height="8"/><text x="10" y="-2">other</text></g>
<g id="n188" class="ann a" transform="translate(656,666)"><rect width="35" height="8"/><text x="10" y="-2">answer</text></g>
<g id="n189" class="ann q" transform="translate(644,677)"><rect width="12" height="30"/><text x="10" y="-2">question</text></g>
<g id="n190" class="ann o" transform="translate(563,689)"><rect width="33" height="8"/><text x="10" y="-2">other</text></g>
<g id="n191" class="ann a" transform="translate(601,689)"><rect width="42" height="8"/><text x="10" y="-2">answer</text></g>
<g id="n192" class="ann a" transform="translate(659,689)"><rect width="34" height="8"/><text x="10" y="-2">answer</text></g>
<g id="n193" class="ann o" transform="translate(563,711)"><rect width="33" height="9"/><text x="10" y="-2">other</text></g>
<g id="n194" class="ann q" transform="translate(601,711)"><rect width="41" height="9"/><text x="10" y="-2">question</text></g>
<g id="n195" class="ann q" transform="translate(644,711)"><rect width="9" height="9"/><text x="10" y="-2">question</text></g>
<g id="n196" class="ann a" transform="translate(657,711)"><rect width="36" height="9"/><text x="10" y="-2">answer</text></g>
<g id="n197" class="ann a" transform="translate(567,734)"><rect width="41" height="9"/><text x="10" y="-2">answer</text></g>
<g id="n198" class="ann o" transform="translate(611,734)"><rect width="26" height="9"/><text x="10" y="-2">other</text></g>
<g id="n199" class="ann q" transform="translate(641,734)"><rect width="10" height="9"/><text x="10" y="-2">question</text></g>
<g id="n200" class="ann a" transform="translate(658,735)"><rect width="32" height="8"/><text x="10" y="-2">answer</text></g>
<g id="n201" class="ann a" transform="translate(595,753)"><rect width="32" height="9"/><text x="10" y="-2">answer</text></g>
<g id="n202" class="ann a" transform="translate(630,753)"><rect width="28" height="11"/><text x="10" y="-2">answer</text></g>

<g id="n203" class="ann o" transform="translate(169,986)"><rect width="24" height="7"/><text x="10" y="-2">other</text></g>
<g id="n204" class="ann o" transform="translate(195,986)"><rect width="12" height="7"/><text x="10" y="-2">other</text></g>
<g id="n205" class="ann o" transform="translate(209,986)"><rect width="34" height="7"/><text x="10" y="-2">other</text></g>
<g id="n206" class="ann o" transform="translate(344,997)"><rect width="32" height="7"/><text x="10" y="-2">other</text></g>
<g id="n207" class="ann o" transform="translate(379,992)"><rect width="25" height="6"/><text x="10" y="-2">other</text></g>
<g id="n208" class="ann o" transform="translate(406,992)"><rect width="122" height="7"/><text x="10" y="-2">other</text></g>
<g id="n209" class="ann o" transform="translate(472,990)"><rect width="25" height="28"/><text x="10" y="-2">other</text></g>
<g id="n210" class="ann o" transform="translate(505,1002)"><rect width="16" height="7"/><text x="10" y="-2">other</text></g>
</g>
</svg>
